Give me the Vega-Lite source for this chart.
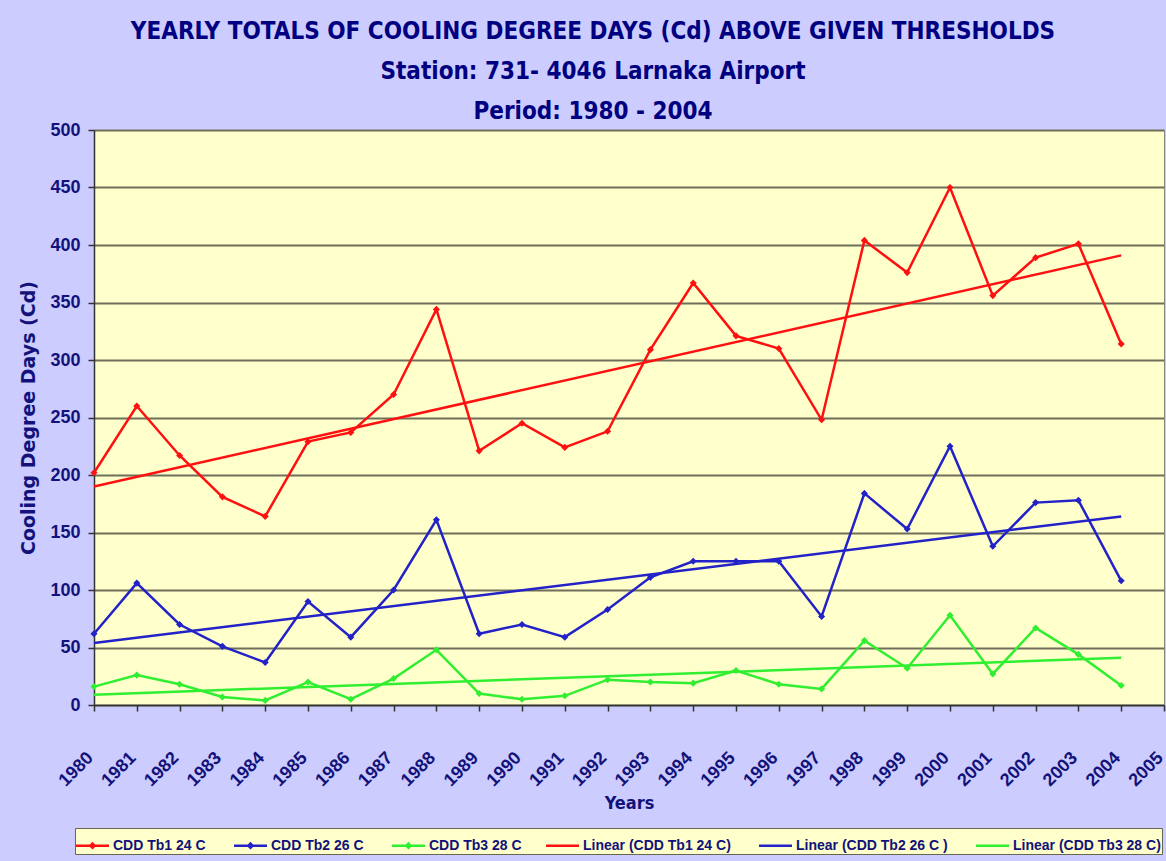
{
  "$schema": "https://vega.github.io/schema/vega-lite/v6.json",
  "width": 1070,
  "height": 575,
  "autosize": {"type": "none"},
  "padding": {"left": 94, "top": 130, "right": 2, "bottom": 156},
  "background": "#CCCCFF",
  "title": {
    "text": ["YEARLY  TOTALS  OF  COOLING DEGREE  DAYS  (Cd)  ABOVE  GIVEN  THRESHOLDS", "Station: 731- 4046 Larnaka Airport", "Period: 1980 - 2004"],
    "anchor": "middle",
    "frame": "group",
    "dx": -36,
    "offset": -3,
    "font": "DejaVu Sans Condensed",
    "fontSize": 24,
    "fontWeight": "bold",
    "color": "#000080",
    "lineHeight": 40
  },
  "config": {
    "view": {"fill": "#FFFFCC", "stroke": "#888877", "strokeWidth": 1},
    "axis": {
      "labelFont": "Liberation Sans",
      "labelFontWeight": "bold",
      "labelFontSize": 18,
      "labelColor": "#12127a",
      "titleFont": "Liberation Sans",
      "titleFontWeight": "bold",
      "titleColor": "#12127a",
      "domainColor": "#333333",
      "domainWidth": 1.5,
      "tickColor": "#333333",
      "tickSize": 6,
      "tickWidth": 1.5,
      "gridColor": "#6e6e5a",
      "gridWidth": 2
    }
  },
  "data": {
    "values": [
      {"year": 1980, "series": "CDD Tb1  24 C", "value": 202},
      {"year": 1981, "series": "CDD Tb1  24 C", "value": 260},
      {"year": 1982, "series": "CDD Tb1  24 C", "value": 217},
      {"year": 1983, "series": "CDD Tb1  24 C", "value": 181},
      {"year": 1984, "series": "CDD Tb1  24 C", "value": 164},
      {"year": 1985, "series": "CDD Tb1  24 C", "value": 229},
      {"year": 1986, "series": "CDD Tb1  24 C", "value": 237},
      {"year": 1987, "series": "CDD Tb1  24 C", "value": 270},
      {"year": 1988, "series": "CDD Tb1  24 C", "value": 344},
      {"year": 1989, "series": "CDD Tb1  24 C", "value": 221},
      {"year": 1990, "series": "CDD Tb1  24 C", "value": 245},
      {"year": 1991, "series": "CDD Tb1  24 C", "value": 224},
      {"year": 1992, "series": "CDD Tb1  24 C", "value": 238},
      {"year": 1993, "series": "CDD Tb1  24 C", "value": 309},
      {"year": 1994, "series": "CDD Tb1  24 C", "value": 367},
      {"year": 1995, "series": "CDD Tb1  24 C", "value": 321},
      {"year": 1996, "series": "CDD Tb1  24 C", "value": 310},
      {"year": 1997, "series": "CDD Tb1  24 C", "value": 248},
      {"year": 1998, "series": "CDD Tb1  24 C", "value": 404},
      {"year": 1999, "series": "CDD Tb1  24 C", "value": 376},
      {"year": 2000, "series": "CDD Tb1  24 C", "value": 450},
      {"year": 2001, "series": "CDD Tb1  24 C", "value": 356},
      {"year": 2002, "series": "CDD Tb1  24 C", "value": 389},
      {"year": 2003, "series": "CDD Tb1  24 C", "value": 401},
      {"year": 2004, "series": "CDD Tb1  24 C", "value": 314},
      {"year": 1980, "series": "CDD Tb2  26 C", "value": 62},
      {"year": 1981, "series": "CDD Tb2  26 C", "value": 106},
      {"year": 1982, "series": "CDD Tb2  26 C", "value": 70},
      {"year": 1983, "series": "CDD Tb2  26 C", "value": 51},
      {"year": 1984, "series": "CDD Tb2  26 C", "value": 37},
      {"year": 1985, "series": "CDD Tb2  26 C", "value": 90},
      {"year": 1986, "series": "CDD Tb2  26 C", "value": 59},
      {"year": 1987, "series": "CDD Tb2  26 C", "value": 100},
      {"year": 1988, "series": "CDD Tb2  26 C", "value": 161},
      {"year": 1989, "series": "CDD Tb2  26 C", "value": 62},
      {"year": 1990, "series": "CDD Tb2  26 C", "value": 70},
      {"year": 1991, "series": "CDD Tb2  26 C", "value": 59},
      {"year": 1992, "series": "CDD Tb2  26 C", "value": 83},
      {"year": 1993, "series": "CDD Tb2  26 C", "value": 111},
      {"year": 1994, "series": "CDD Tb2  26 C", "value": 125},
      {"year": 1995, "series": "CDD Tb2  26 C", "value": 125},
      {"year": 1996, "series": "CDD Tb2  26 C", "value": 125},
      {"year": 1997, "series": "CDD Tb2  26 C", "value": 77},
      {"year": 1998, "series": "CDD Tb2  26 C", "value": 184},
      {"year": 1999, "series": "CDD Tb2  26 C", "value": 153},
      {"year": 2000, "series": "CDD Tb2  26 C", "value": 225},
      {"year": 2001, "series": "CDD Tb2  26 C", "value": 138},
      {"year": 2002, "series": "CDD Tb2  26 C", "value": 176},
      {"year": 2003, "series": "CDD Tb2  26 C", "value": 178},
      {"year": 2004, "series": "CDD Tb2  26 C", "value": 108},
      {"year": 1980, "series": "CDD Tb3 28 C", "value": 16},
      {"year": 1981, "series": "CDD Tb3 28 C", "value": 26},
      {"year": 1982, "series": "CDD Tb3 28 C", "value": 18},
      {"year": 1983, "series": "CDD Tb3 28 C", "value": 7},
      {"year": 1984, "series": "CDD Tb3 28 C", "value": 4},
      {"year": 1985, "series": "CDD Tb3 28 C", "value": 20},
      {"year": 1986, "series": "CDD Tb3 28 C", "value": 5},
      {"year": 1987, "series": "CDD Tb3 28 C", "value": 23},
      {"year": 1988, "series": "CDD Tb3 28 C", "value": 48},
      {"year": 1989, "series": "CDD Tb3 28 C", "value": 10},
      {"year": 1990, "series": "CDD Tb3 28 C", "value": 5},
      {"year": 1991, "series": "CDD Tb3 28 C", "value": 8},
      {"year": 1992, "series": "CDD Tb3 28 C", "value": 22},
      {"year": 1993, "series": "CDD Tb3 28 C", "value": 20},
      {"year": 1994, "series": "CDD Tb3 28 C", "value": 19},
      {"year": 1995, "series": "CDD Tb3 28 C", "value": 30},
      {"year": 1996, "series": "CDD Tb3 28 C", "value": 18},
      {"year": 1997, "series": "CDD Tb3 28 C", "value": 14},
      {"year": 1998, "series": "CDD Tb3 28 C", "value": 56},
      {"year": 1999, "series": "CDD Tb3 28 C", "value": 32},
      {"year": 2000, "series": "CDD Tb3 28 C", "value": 78},
      {"year": 2001, "series": "CDD Tb3 28 C", "value": 27},
      {"year": 2002, "series": "CDD Tb3 28 C", "value": 67},
      {"year": 2003, "series": "CDD Tb3 28 C", "value": 44},
      {"year": 2004, "series": "CDD Tb3 28 C", "value": 17},
      {"year": 1980, "series": "Linear (CDD Tb1  24 C)", "value": 190},
      {"year": 2004, "series": "Linear (CDD Tb1  24 C)", "value": 391},
      {"year": 1980, "series": "Linear (CDD Tb2  26 C )", "value": 54},
      {"year": 2004, "series": "Linear (CDD Tb2  26 C )", "value": 164},
      {"year": 1980, "series": "Linear (CDD Tb3 28 C)", "value": 9},
      {"year": 2004, "series": "Linear (CDD Tb3 28 C)", "value": 41}
    ]
  },
  "encoding": {
    "x": {
      "field": "year",
      "type": "quantitative",
      "scale": {"domain": [1980, 2005], "nice": false, "zero": false},
      "axis": {
        "values": [1980, 1981, 1982, 1983, 1984, 1985, 1986, 1987, 1988, 1989, 1990, 1991, 1992, 1993, 1994, 1995, 1996, 1997, 1998, 1999, 2000, 2001, 2002, 2003, 2004, 2005],
        "format": "d",
        "labelAngle": -45,
        "labelAlign": "right",
        "labelBaseline": "middle",
        "labelPadding": 44,
        "labelOffset": -4,
        "labelFlush": false,
        "labelOverlap": false,
        "grid": false,
        "title": "Years",
        "titleFont": "DejaVu Sans Condensed",
        "titleFontSize": 18,
        "titlePadding": 5
      }
    },
    "y": {
      "field": "value",
      "type": "quantitative",
      "scale": {"domain": [0, 500], "nice": false},
      "axis": {
        "values": [0, 50, 100, 150, 200, 250, 300, 350, 400, 450, 500],
        "grid": true,
        "labelPadding": 8,
        "title": "Cooling Degree Days (Cd)",
        "titleFont": "DejaVu Sans",
        "titleFontSize": 19,
        "titlePadding": 11
      }
    },
    "color": {
      "field": "series",
      "type": "nominal",
      "scale": {
        "domain": ["CDD Tb1  24 C", "CDD Tb2  26 C", "CDD Tb3 28 C", "Linear (CDD Tb1  24 C)", "Linear (CDD Tb2  26 C )", "Linear (CDD Tb3 28 C)"],
        "range": ["#FF1010", "#2222C8", "#30EE30", "#FF1010", "#2222C8", "#30EE30"]
      },
      "legend": {
        "title": null,
        "orient": "none",
        "legendX": -19,
        "legendY": 698,
        "direction": "horizontal",
        "columns": 6,
        "fillColor": "#FFFFCC",
        "strokeColor": "#666655",
        "padding": 1,
        "columnPadding": 19,
        "symbolSize": 900,
        "symbolStrokeWidth": 2.5,
        "labelFont": "Liberation Sans",
        "labelFontSize": 14,
        "labelFontWeight": "bold",
        "labelColor": "#12127a",
        "labelOffset": 4,
        "labelLimit": 0,
        "encode": {
          "symbols": {
            "update": {
              "shape": {"signal": "indexof(datum.value, 'Linear') === 0 ? 'M-1.1,0H1.1' : 'M-1.1,0H1.1M0,-0.14L0.14,0L0,0.14L-0.14,0Z'"},
              "fill": {"scale": "color", "field": "value"},
              "stroke": {"scale": "color", "field": "value"},
              "opacity": {"value": 1},
              "fillOpacity": {"value": 1}
            }
          }
        }
      }
    }
  },
  "layer": [
    {
      "transform": [{"filter": "indexof(datum.series, 'Linear') < 0"}],
      "mark": {"type": "line", "strokeWidth": 2.5}
    },
    {
      "transform": [{"filter": "indexof(datum.series, 'Linear') < 0"}],
      "mark": {"type": "point", "shape": "diamond", "filled": true, "size": 50, "opacity": 1}
    },
    {
      "transform": [{"filter": "indexof(datum.series, 'Linear') === 0"}],
      "mark": {"type": "line", "strokeWidth": 2.5}
    }
  ]
}
